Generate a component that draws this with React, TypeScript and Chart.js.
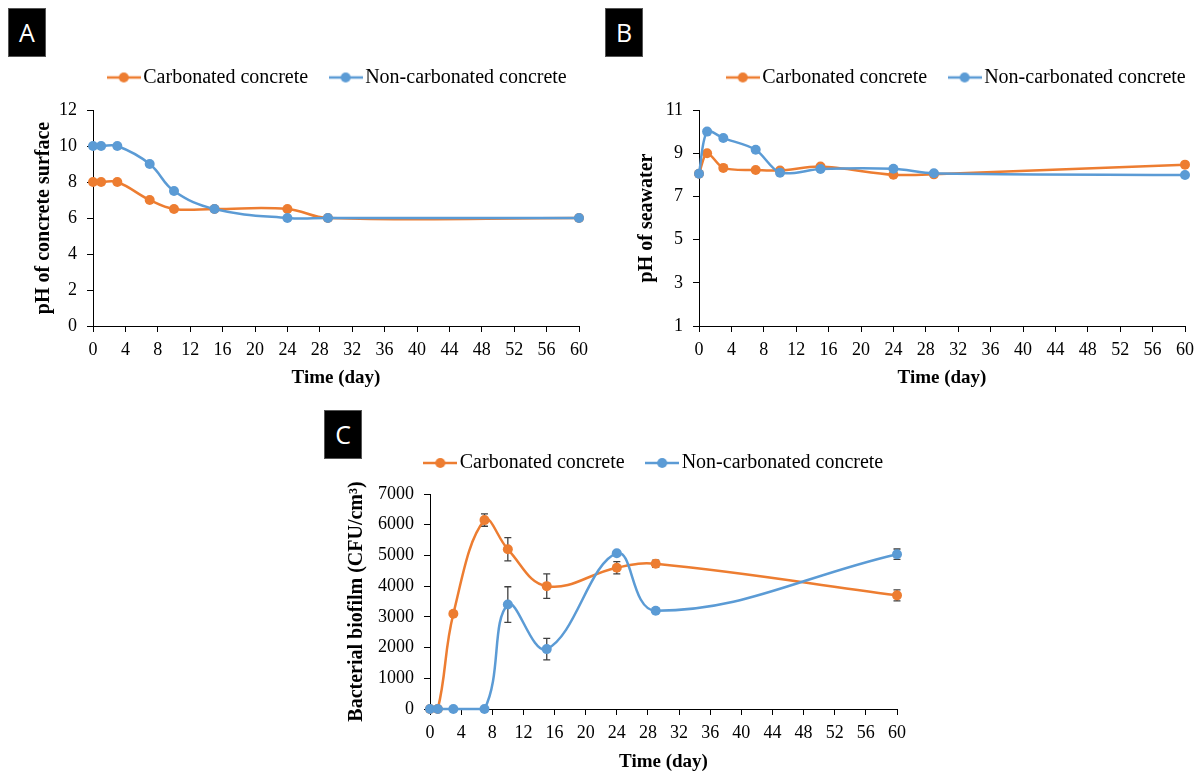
import React, { useEffect, useRef } from 'react';
import { Chart, registerables } from 'chart.js';

Chart.register(...registerables);

// ---------- data ----------
const DAYS = [0, 1, 3, 7, 10, 15, 24, 29, 60];
const X_TICKS = [0, 4, 8, 12, 16, 20, 24, 28, 32, 36, 40, 44, 48, 52, 56, 60];
const SERIES_NAMES = ['Carbonated concrete', 'Non-carbonated concrete'];
const X_TITLE = 'Time (day)';

const A_TITLE = 'pH of concrete surface';
const A_Y_TICKS = [0, 2, 4, 6, 8, 10, 12];
const A_CARB = [8, 8, 8, 7, 6.5, 6.5, 6.5, 6, 6];
const A_NON = [10, 10, 10, 9, 7.5, 6.5, 6, 6, 6];

const B_TITLE = 'pH of seawater';
const B_Y_TICKS = [1, 3, 5, 7, 9, 11];
const B_CARB = [8.05, 9.0, 8.32, 8.22, 8.2, 8.38, 8.0, 8.02, 8.47];
const B_NON = [8.05, 10.0, 9.7, 9.16, 8.1, 8.27, 8.28, 8.07, 7.99];

const C_TITLE = 'Bacterial biofilm (CFU/cm\u00B3)';
const C_Y_TICKS = [0, 1000, 2000, 3000, 4000, 5000, 6000, 7000];
const C_CARB = [0, 0, 3100, 6150, 5200, 4000, 4600, 4730, 3700];
const C_CARB_ERR = [0, 0, 0, 200, 380, 400, 200, 120, 180];
const C_NON = [0, 0, 0, 0, 3400, 1950, 5070, 3200, 5040];
const C_NON_ERR = [0, 0, 0, 0, 580, 350, 70, 80, 170];

const ORANGE = '#ED7D31';
const BLUE = '#5B9BD5';
const SERIF = 'Liberation Serif';

// ---------- plugins ----------
const errorBars = {
  id: 'errorBars',
  beforeDatasetsDraw(chart: any) {
    const ctx = chart.ctx;
    const ys = chart.scales.y;
    chart.data.datasets.forEach((ds: any, di: number) => {
      if (!ds.errors) return;
      const meta = chart.getDatasetMeta(di);
      meta.data.forEach((pt: any, i: number) => {
        const e = ds.errors[i];
        if (!e) return;
        const v = ds.data[i].y;
        const x = pt.x;
        const y1 = ys.getPixelForValue(v + e);
        const y2 = ys.getPixelForValue(v - e);
        ctx.save();
        ctx.strokeStyle = '#404040';
        ctx.lineWidth = 1.3;
        ctx.beginPath();
        ctx.moveTo(x, y1);
        ctx.lineTo(x, y2);
        ctx.moveTo(x - 3.5, y1);
        ctx.lineTo(x + 3.5, y1);
        ctx.moveTo(x - 3.5, y2);
        ctx.lineTo(x + 3.5, y2);
        ctx.stroke();
        ctx.restore();
      });
    });
  },
};

const legendPlace = {
  id: 'legendPlace',
  beforeInit(chart: any, _args: any, opts: any) {
    const l = chart.legend;
    if (!l) return;
    const orig = l.fit;
    l.fit = function () {
      orig.call(this);
      this.height = opts.h;
    };
  },
  afterLayout(chart: any, _args: any, opts: any) {
    const l = chart.legend;
    if (!l) return;
    const dy = opts.cy - (opts.pad + opts.fs / 2) - l.top;
    l.top += dy;
    l.bottom += dy;
    const dx = opts.cx - (l.left + l.right) / 2;
    l.left += dx;
    l.right += dx;
  },
};

function makeIcon(color: string) {
  const c = document.createElement('canvas');
  c.width = 34;
  c.height = 12;
  const ctx = c.getContext('2d')!;
  ctx.strokeStyle = color;
  ctx.lineWidth = 2.5;
  ctx.beginPath();
  ctx.moveTo(0, 6);
  ctx.lineTo(34, 6);
  ctx.stroke();
  ctx.fillStyle = color;
  ctx.beginPath();
  ctx.arc(17, 6, 5, 0, Math.PI * 2);
  ctx.fill();
  return c;
}

type PanelSpec = {
  left: number;
  top: number;
  width: number;
  height: number;
  yWidth: number;
  legendH: number;
  xH: number;
  padRight: number;
  yTitlePad: number;
  xTitlePad: number;
  legendCx: number;
  legendCy: number;
  yTicks: number[];
  yTitle: string;
  carb: number[];
  non: number[];
  carbErr?: number[];
  nonErr?: number[];
  tension: number;
};

function buildConfig(s: PanelSpec): any {
  const icons = [makeIcon(ORANGE), makeIcon(BLUE)];
  const mk = (vals: number[]) => DAYS.map((d, i) => ({ x: d, y: vals[i] }));
  const common = {
    borderWidth: 2.5,
    pointRadius: 5,
    pointHoverRadius: 5,
    pointBorderWidth: 0,
    tension: s.tension,
    clip: false,
    fill: false,
  };
  const LEG_FS = 20;
  const LEG_PAD = 28;
  return {
    type: 'line',
    data: {
      datasets: [
        {
          ...common,
          label: SERIES_NAMES[0],
          data: mk(s.carb),
          borderColor: ORANGE,
          backgroundColor: ORANGE,
          pointBackgroundColor: ORANGE,
          errors: s.carbErr,
          order: 1,
        },
        {
          ...common,
          label: SERIES_NAMES[1],
          data: mk(s.non),
          borderColor: BLUE,
          backgroundColor: BLUE,
          pointBackgroundColor: BLUE,
          errors: s.nonErr,
          order: 0,
        },
      ],
    },
    options: {
      responsive: false,
      animation: false,
      events: [],
      layout: { padding: { left: 0, right: s.padRight, top: 0, bottom: 0 } },
      scales: {
        x: {
          type: 'linear',
          min: 0,
          max: 60,
          afterBuildTicks: (sc: any) => {
            sc.ticks = X_TICKS.map((v) => ({ value: v }));
          },
          afterFit: (sc: any) => {
            sc.height = s.xH;
          },
          ticks: {
            font: { family: SERIF, size: 18 },
            color: '#000',
            padding: 7,
            maxRotation: 0,
            autoSkip: false,
            callback: (v: any) => String(v),
          },
          grid: { display: true, drawOnChartArea: false, drawTicks: true, tickLength: 6, color: '#000', lineWidth: 1 },
          border: { display: true, color: '#000', width: 1 },
          title: {
            display: true,
            text: X_TITLE,
            color: '#000',
            font: { family: SERIF, size: 19, weight: 'bold' },
            padding: { top: 0, bottom: s.xTitlePad },
          },
        },
        y: {
          type: 'linear',
          min: s.yTicks[0],
          max: s.yTicks[s.yTicks.length - 1],
          afterBuildTicks: (sc: any) => {
            sc.ticks = s.yTicks.map((v) => ({ value: v }));
          },
          afterFit: (sc: any) => {
            sc.width = s.yWidth;
          },
          ticks: {
            font: { family: SERIF, size: 18 },
            color: '#000',
            padding: 10,
            autoSkip: false,
            callback: (v: any) => String(v),
          },
          grid: { display: true, drawOnChartArea: false, drawTicks: true, tickLength: 6, color: '#000', lineWidth: 1 },
          border: { display: true, color: '#000', width: 1 },
          title: {
            display: true,
            text: s.yTitle,
            color: '#000',
            font: { family: SERIF, size: 20, weight: 'bold' },
            padding: { top: s.yTitlePad, bottom: 0 },
          },
        },
      },
      plugins: {
        tooltip: { enabled: false },
        legend: {
          display: true,
          position: 'top',
          labels: {
            usePointStyle: true,
            pointStyleWidth: 19,
            padding: LEG_PAD,
            color: '#000',
            font: { family: SERIF, size: LEG_FS },
            sort: (a: any, b: any) => a.datasetIndex - b.datasetIndex,
            generateLabels: (chart: any) => {
              const items = (Chart.defaults as any).plugins.legend.labels.generateLabels(chart);
              items.forEach((it: any) => {
                it.pointStyle = icons[it.datasetIndex];
              });
              return items;
            },
          },
        },
        legendPlace: { h: s.legendH, cx: s.legendCx, cy: s.legendCy, pad: LEG_PAD, fs: LEG_FS },
      },
    },
    plugins: [errorBars, legendPlace],
  };
}

const PANELS: PanelSpec[] = [
  {
    left: 0, top: 0, width: 600, height: 395,
    yWidth: 93, legendH: 110, xH: 69, padRight: 21, yTitlePad: 32, xTitlePad: 5.6,
    legendCx: 340.5, legendCy: 77.5,
    yTicks: A_Y_TICKS, yTitle: A_TITLE, carb: A_CARB, non: A_NON, tension: 0.4,
  },
  {
    left: 600, top: 0, width: 601, height: 395,
    yWidth: 99, legendH: 110, xH: 69, padRight: 16, yTitlePad: 35, xTitlePad: 5.6,
    legendCx: 359.5, legendCy: 77.5,
    yTicks: B_Y_TICKS, yTitle: B_TITLE, carb: B_CARB, non: B_NON, tension: 0.3,
  },
  {
    left: 300, top: 395, width: 620, height: 376,
    yWidth: 130, legendH: 99, xH: 62, padRight: 23, yTitlePad: 45, xTitlePad: -2.4,
    legendCx: 357, legendCy: 68,
    yTicks: C_Y_TICKS, yTitle: C_TITLE, carb: C_CARB, non: C_NON,
    carbErr: C_CARB_ERR, nonErr: C_NON_ERR, tension: 0.4,
  },
];

const LABELS = [
  { text: 'A', left: 8, top: 8 },
  { text: 'B', left: 605, top: 8 },
  { text: 'C', left: 324, top: 410 },
];

function ChartPanel({ spec }: { spec: PanelSpec }) {
  const ref = useRef<HTMLCanvasElement>(null);
  useEffect(() => {
    const chart = new Chart(ref.current as HTMLCanvasElement, buildConfig(spec));
    return () => chart.destroy();
  }, [spec]);
  return (
    <canvas
      ref={ref}
      width={spec.width}
      height={spec.height}
      style={{ position: 'absolute', left: spec.left, top: spec.top, width: spec.width, height: spec.height, display: 'block' }}
    />
  );
}

export default function App() {
  return (
    <div style={{ position: 'absolute', left: 0, top: 0, width: 1201, height: 771, overflow: 'hidden', background: '#fff' }}>
      {PANELS.map((p, i) => (
        <ChartPanel key={i} spec={p} />
      ))}
      {LABELS.map((l) => (
        <div
          key={l.text}
          style={{
            position: 'absolute',
            left: l.left,
            top: l.top,
            width: 38,
            height: 49,
            boxSizing: 'border-box',
            background: '#000',
            border: '1px solid #555',
            color: '#fff',
            fontFamily: '"Open Sans", sans-serif',
            fontSize: 25,
            lineHeight: '47px',
            textAlign: 'center',
          }}
        >
          {l.text}
        </div>
      ))}
    </div>
  );
}
